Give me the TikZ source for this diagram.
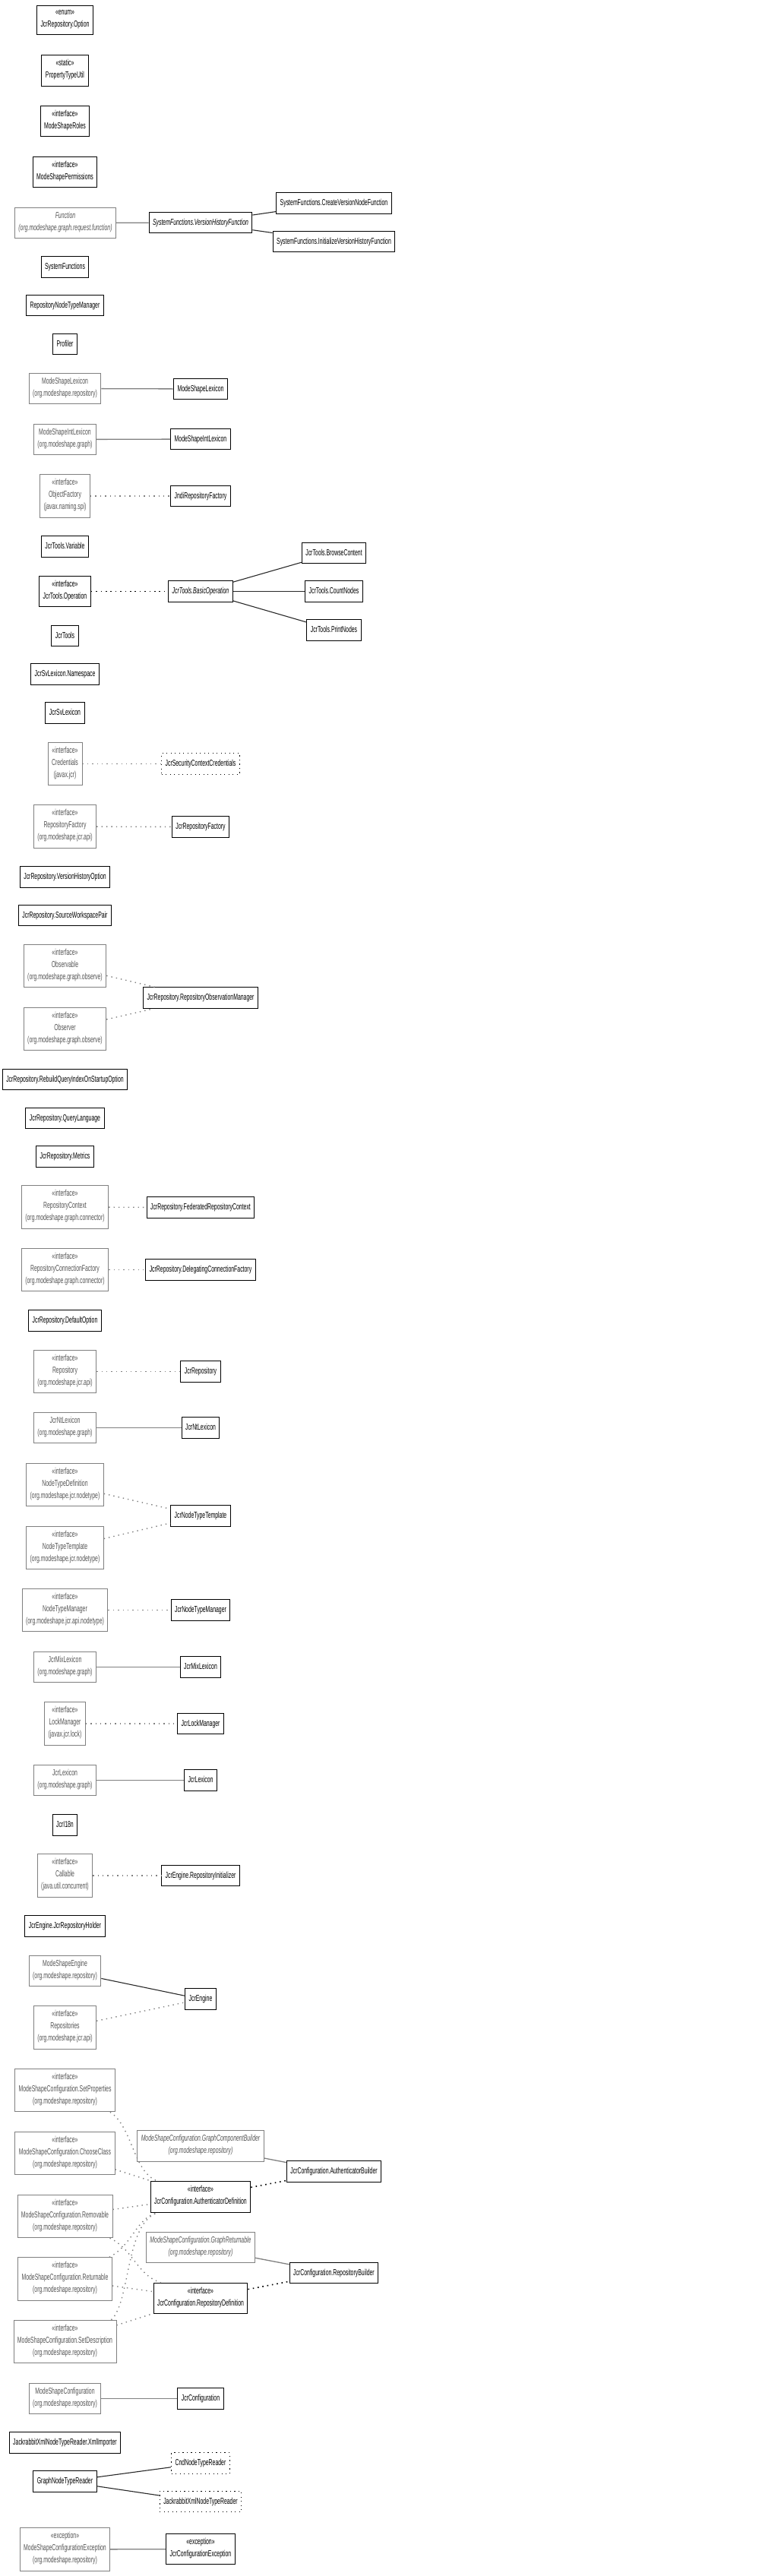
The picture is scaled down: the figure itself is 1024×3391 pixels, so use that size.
\documentclass[tikz,border=0pt]{standalone}
\usepackage{fontspec}
\setmainfont{Liberation Sans}[FakeStretch=0.6]
\usetikzlibrary{positioning, calc}
\definecolor{LibGray}{RGB}{128, 128, 128}
\definecolor{LibText}{RGB}{85, 85, 85}
\definecolor{EdgeDark}{RGB}{40, 40, 40}
\newcommand{\umlfont}{\fontsize{11.5}{16}\selectfont}

\begin{document}
\begin{tikzpicture}[x=1pt, y=-1pt,
    every node/.style={font=\umlfont, align=center, inner xsep=5pt, inner ysep=5.75pt,
      execute at begin node=\strut, execute at end node=\strut},
    cls/.style={draw=black, line width=1pt, fill=white},
    lib/.style={draw=LibGray, line width=0.9pt, text=LibText, fill=white},
    anon/.style={draw=black, line width=1pt, dash pattern=on 1.2pt off 4.3pt, fill=white},
    abstr/.style={font=\umlfont\itshape},
    ext/.style={draw=LibGray, line width=1.3pt},
    assoc/.style={draw=EdgeDark, line width=1.1pt},
    impl/.style={draw=LibGray, line width=1.4pt, dash pattern=on 1.4pt off 5pt},
    implk/.style={draw=black, line width=1.6pt, dash pattern=on 1.6pt off 4.8pt}]
  \useasboundingbox (0,0) rectangle (1024,3391);

  % left column
  \node[cls] (opt) at (85.5,26.5) {«enum»\\JcrRepository.Option};
  \node[cls] (ptu) at (85.5,93) {«static»\\PropertyTypeUtil};
  \node[cls] (roles) at (85.5,159.5) {«interface»\\ModeShapeRoles};
  \node[cls] (perms) at (85.5,226.5) {«interface»\\ModeShapePermissions};
  \node[lib, abstr] (fn) at (86,293.5) {Function\\(org.modeshape.graph.request.function)};
  \node[cls] (sysfn) at (85.5,351.5) {SystemFunctions};
  \node[cls] (rntm) at (85.5,402) {RepositoryNodeTypeManager};
  \node[cls] (profiler) at (85.5,453) {Profiler};
  \node[lib] (mslexb) at (85.5,511.5) {ModeShapeLexicon\\(org.modeshape.repository)};
  \node[lib] (msintlexb) at (85.5,578.5) {ModeShapeIntLexicon\\(org.modeshape.graph)};
  \node[lib] (objfact) at (85.5,653) {«interface»\\ObjectFactory\\(javax.naming.spi)};
  \node[cls] (jtvar) at (85.5,719.5) {JcrTools.Variable};
  \node[cls] (jtop) at (85.5,778.5) {«interface»\\JcrTools.Operation};
  \node[cls] (jtools) at (85.5,837) {JcrTools};
  \node[cls] (svns) at (85.5,887.5) {JcrSvLexicon.Namespace};
  \node[cls] (svlex) at (85.5,938.5) {JcrSvLexicon};
  \node[lib] (cred) at (85.5,1005.5) {«interface»\\Credentials\\(javax.jcr)};
  \node[lib] (repofact) at (85.5,1088) {«interface»\\RepositoryFactory\\(org.modeshape.jcr.api)};
  \node[cls] (vho) at (85.5,1154.5) {JcrRepository.VersionHistoryOption};
  \node[cls] (swp) at (85.5,1205) {JcrRepository.SourceWorkspacePair};
  \node[lib] (observable) at (85.5,1271.5) {«interface»\\Observable\\(org.modeshape.graph.observe)};
  \node[lib] (observer) at (85.5,1354.5) {«interface»\\Observer\\(org.modeshape.graph.observe)};
  \node[cls] (rebuild) at (85.5,1421) {JcrRepository.RebuildQueryIndexOnStartupOption};
  \node[cls] (qlang) at (85.5,1472) {JcrRepository.QueryLanguage};
  \node[cls] (metrics) at (85.5,1522.5) {JcrRepository.Metrics};
  \node[lib] (repoctx) at (85.5,1589) {«interface»\\RepositoryContext\\(org.modeshape.graph.connector)};
  \node[lib] (repoconn) at (85.5,1671.5) {«interface»\\RepositoryConnectionFactory\\(org.modeshape.graph.connector)};
  \node[cls] (defopt) at (85.5,1738.5) {JcrRepository.DefaultOption};
  \node[lib] (repo) at (85.5,1805.5) {«interface»\\Repository\\(org.modeshape.jcr.api)};
  \node[lib] (ntlexb) at (85.5,1879.5) {JcrNtLexicon\\(org.modeshape.graph)};
  \node[lib] (ntdef) at (85.5,1954.5) {«interface»\\NodeTypeDefinition\\(org.modeshape.jcr.nodetype)};
  \node[lib] (nttmpl) at (85.5,2037.5) {«interface»\\NodeTypeTemplate\\(org.modeshape.jcr.nodetype)};
  \node[lib] (ntmgr) at (85.5,2119.5) {«interface»\\NodeTypeManager\\(org.modeshape.jcr.api.nodetype)};
  \node[lib] (mixlexb) at (85.5,2194.5) {JcrMixLexicon\\(org.modeshape.graph)};
  \node[lib] (lockmgr) at (85.5,2269) {«interface»\\LockManager\\(javax.jcr.lock)};
  \node[lib] (lexb) at (85.5,2343.5) {JcrLexicon\\(org.modeshape.graph)};
  \node[cls] (i18n) at (85.5,2402.5) {JcrI18n};
  \node[lib] (callable) at (85.5,2469) {«interface»\\Callable\\(java.util.concurrent)};
  \node[cls] (holder) at (85.5,2535.5) {JcrEngine.JcrRepositoryHolder};
  \node[lib] (msengine) at (85.5,2594.5) {ModeShapeEngine\\(org.modeshape.repository)};
  \node[lib] (repos) at (85.5,2669) {«interface»\\Repositories\\(org.modeshape.jcr.api)};
  \node[lib] (setprops) at (85.5,2751.5) {«interface»\\ModeShapeConfiguration.SetProperties\\(org.modeshape.repository)};
  \node[lib] (choose) at (85.5,2834.5) {«interface»\\ModeShapeConfiguration.ChooseClass\\(org.modeshape.repository)};
  \node[lib] (removable) at (85.5,2917.5) {«interface»\\ModeShapeConfiguration.Removable\\(org.modeshape.repository)};
  \node[lib] (returnable) at (85.5,3000) {«interface»\\ModeShapeConfiguration.Returnable\\(org.modeshape.repository)};
  \node[lib] (setdesc) at (85.5,3082.5) {«interface»\\ModeShapeConfiguration.SetDescription\\(org.modeshape.repository)};
  \node[lib] (mscfg) at (85.5,3157.5) {ModeShapeConfiguration\\(org.modeshape.repository)};
  \node[cls] (xmlimp) at (85.5,3215.5) {JackrabbitXmlNodeTypeReader.XmlImporter};
  \node[cls] (gntr) at (85.5,3266.5) {GraphNodeTypeReader};
  \node[lib] (mscfgex) at (85.5,3356) {«exception»\\ModeShapeConfigurationException\\(org.modeshape.repository)};

  % middle column
  \node[cls, abstr] (vhf) at (264,293) {SystemFunctions.VersionHistoryFunction};
  \node[cls] (mslex) at (264,512) {ModeShapeLexicon};
  \node[cls] (msintlex) at (264,578) {ModeShapeIntLexicon};
  \node[cls] (jndi) at (264,653) {JndiRepositoryFactory};
  \node[cls, abstr] (basicop) at (264,778.5) {JcrTools.BasicOperation};
  \node[anon] (seccred) at (264,1005.5) {JcrSecurityContextCredentials};
  \node[cls] (jcrrepofact) at (264,1088.5) {JcrRepositoryFactory};
  \node[cls] (rom) at (264,1313.5) {JcrRepository.RepositoryObservationManager};
  \node[cls] (fedctx) at (264,1589.5) {JcrRepository.FederatedRepositoryContext};
  \node[cls] (delconn) at (264,1671.5) {JcrRepository.DelegatingConnectionFactory};
  \node[cls] (jcrrepo) at (264,1805.5) {JcrRepository};
  \node[cls] (ntlex) at (264,1879.5) {JcrNtLexicon};
  \node[cls] (jntt) at (264,1995.5) {JcrNodeTypeTemplate};
  \node[cls] (jntm) at (264,2119.5) {JcrNodeTypeManager};
  \node[cls] (mixlex) at (264,2194.5) {JcrMixLexicon};
  \node[cls] (jlm) at (264,2269) {JcrLockManager};
  \node[cls] (lex) at (264,2343.5) {JcrLexicon};
  \node[cls] (repoinit) at (264,2469) {JcrEngine.RepositoryInitializer};
  \node[cls] (jcrengine) at (264,2631.5) {JcrEngine};
  \node[lib, abstr] (gcb) at (264,2825) {ModeShapeConfiguration.GraphComponentBuilder\\(org.modeshape.repository)};
  \node[cls] (authdef) at (264,2892) {«interface»\\JcrConfiguration.AuthenticatorDefinition};
  \node[lib, abstr] (grr) at (264,2958.5) {ModeShapeConfiguration.GraphReturnable\\(org.modeshape.repository)};
  \node[cls] (repodef) at (264,3025.5) {«interface»\\JcrConfiguration.RepositoryDefinition};
  \node[cls] (jcrcfg) at (264,3157.5) {JcrConfiguration};
  \node[anon] (cnd) at (264,3242.5) {CndNodeTypeReader};
  \node[anon] (jxntr) at (264,3293) {JackrabbitXmlNodeTypeReader};
  \node[cls] (jcfgex) at (264,3355.5) {«exception»\\JcrConfigurationException};

  % right column
  \node[cls] (createvn) at (439.5,267.5) {SystemFunctions.CreateVersionNodeFunction};
  \node[cls] (initvh) at (439.5,318) {SystemFunctions.InitializeVersionHistoryFunction};
  \node[cls] (browse) at (439.5,728) {JcrTools.BrowseContent};
  \node[cls] (count) at (439.5,778.5) {JcrTools.CountNodes};
  \node[cls] (print) at (439.5,829.5) {JcrTools.PrintNodes};
  \node[cls] (authb) at (439.5,2858.5) {JcrConfiguration.AuthenticatorBuilder};
  \node[cls] (repob) at (439.5,2992) {JcrConfiguration.RepositoryBuilder};

  % extends
  \draw[ext] (fn) -- (vhf);
  \draw[ext] (mslexb) -- (mslex);
  \draw[ext] (msintlexb) -- (msintlex);
  \draw[ext] (ntlexb) -- (ntlex);
  \draw[ext] (mixlexb) -- (mixlex);
  \draw[ext] (lexb) -- (lex);
  \draw[ext] (gcb) -- (authb);
  \draw[ext] (grr) -- (repob);
  \draw[ext] (mscfg) -- (jcrcfg);
  \draw[ext] (mscfgex) -- (jcfgex);
  \draw[assoc] (vhf) -- (createvn);
  \draw[assoc] (vhf) -- (initvh);
  \draw[assoc] (basicop) -- (browse);
  \draw[assoc] (basicop) -- (count);
  \draw[assoc] (basicop) -- (print);
  \draw[assoc] (msengine) -- (jcrengine);
  \draw[assoc] (gntr) -- (cnd);
  \draw[assoc] (gntr) -- (jxntr);

  % implements
  \draw[impl] (objfact) -- (jndi);
  \draw[implk] (jtop) -- (basicop);
  \draw[impl] (cred) -- (seccred);
  \draw[impl] (repofact) -- (jcrrepofact);
  \draw[impl] (observable) -- (rom);
  \draw[impl] (observer) -- (rom);
  \draw[impl] (repoctx) -- (fedctx);
  \draw[impl] (repoconn) -- (delconn);
  \draw[impl] (repo) -- (jcrrepo);
  \draw[impl] (ntdef) -- (jntt);
  \draw[impl] (nttmpl) -- (jntt);
  \draw[impl] (ntmgr) -- (jntm);
  \draw[impl] (lockmgr) -- (jlm);
  \draw[impl] (callable) -- (repoinit);
  \draw[impl] (repos) -- (jcrengine);
  \draw[impl] (choose) -- (authdef);
  \draw[impl] (removable) -- (authdef);
  \draw[impl] (returnable) -- (repodef);
  \draw[impl] (setdesc) -- (repodef);
  \draw[impl] ([xshift=-7pt]setprops.south east) .. controls (175,2800) and (175,2860) .. ([xshift=10pt]authdef.north west);
  \draw[impl] ([xshift=-4pt]removable.south east) .. controls (175,2960) and (180,2995) .. ([xshift=10pt]repodef.north west);
  \draw[impl] ([xshift=-4pt]returnable.north east) .. controls (175,2955) and (180,2918) .. ([xshift=10pt]authdef.south west);
  \draw[impl] ([xshift=-7pt]setdesc.north east) .. controls (172,3030) and (165,2925) .. ([xshift=10pt]authdef.south west);
  \draw[implk] (authdef) -- (authb);
  \draw[implk] (repodef) -- (repob);
\end{tikzpicture}
\end{document}
